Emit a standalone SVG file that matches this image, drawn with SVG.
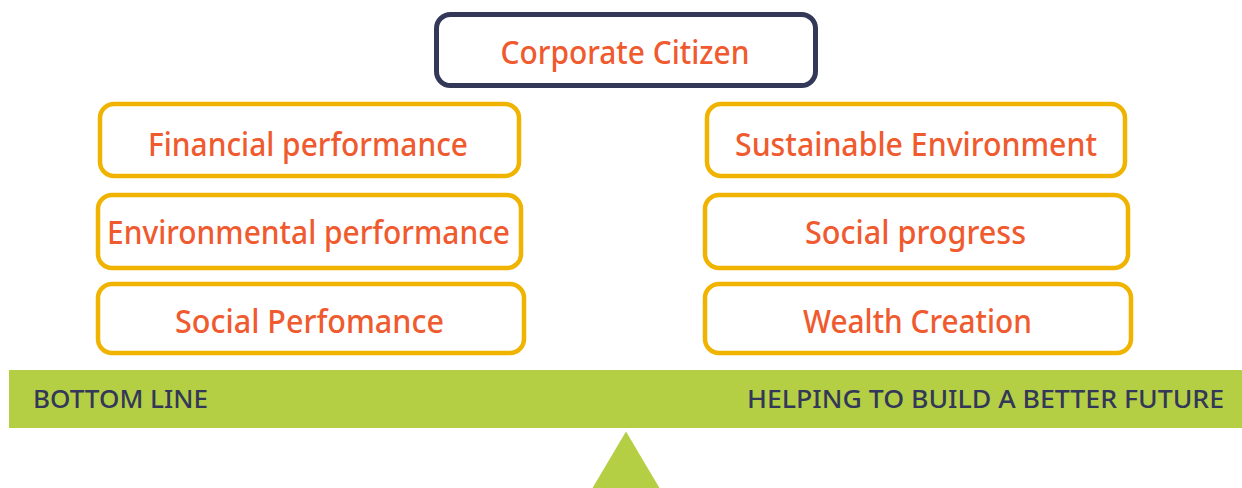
<svg xmlns="http://www.w3.org/2000/svg" width="1242" height="488" viewBox="0 0 1242 488">
<style>
.box{fill:#ffffff;stroke:#efb300;stroke-width:4.5}
.top{fill:#ffffff;stroke:#333758;stroke-width:5}
.lbl{font-family:"Noto Sans","Open Sans",sans-serif;font-size:33px;font-weight:500;fill:#ef5a2f;text-anchor:middle}
.bar{font-family:"Noto Sans","Open Sans",sans-serif;font-size:26px;font-weight:500;fill:#333758}
</style>
<rect width="1242" height="488" fill="#ffffff"/>
<g id="corporate-citizen">
<rect class="top" x="436.5" y="14.5" width="379" height="71" rx="14"/>
<text class="lbl" x="625" y="64" textLength="249" lengthAdjust="spacingAndGlyphs">Corporate Citizen</text>
</g>
<g id="financial-performance">
<rect class="box" x="100" y="104" width="419" height="72" rx="14"/>
<text class="lbl" x="308" y="156" textLength="320" lengthAdjust="spacingAndGlyphs">Financial performance</text>
</g>
<g id="environmental-performance">
<rect class="box" x="98" y="195" width="423" height="73" rx="14"/>
<text class="lbl" x="308.5" y="244" textLength="403" lengthAdjust="spacingAndGlyphs">Environmental performance</text>
</g>
<g id="social-performance">
<rect class="box" x="98" y="284" width="426" height="69" rx="14"/>
<text class="lbl" x="309.5" y="333" textLength="269" lengthAdjust="spacingAndGlyphs">Social Perfomance</text>
</g>
<g id="sustainable-environment">
<rect class="box" x="707" y="104" width="418" height="72" rx="14"/>
<text class="lbl" x="916" y="156" textLength="362" lengthAdjust="spacingAndGlyphs">Sustainable Environment</text>
</g>
<g id="social-progress">
<rect class="box" x="705" y="195" width="423" height="73" rx="14"/>
<text class="lbl" x="915.5" y="244" textLength="221" lengthAdjust="spacingAndGlyphs">Social progress</text>
</g>
<g id="wealth-creation">
<rect class="box" x="705" y="284" width="426" height="69" rx="14"/>
<text class="lbl" x="917.5" y="333" textLength="229" lengthAdjust="spacingAndGlyphs">Wealth Creation</text>
</g>
<g id="connectors"></g>
<g id="balance">
<rect x="9" y="370" width="1233" height="58" fill="#b5cf45"/>
<text class="bar" x="33" y="408" textLength="175" lengthAdjust="spacingAndGlyphs">BOTTOM LINE</text>
<text class="bar" x="1224" y="408" text-anchor="end" textLength="477" lengthAdjust="spacingAndGlyphs">HELPING TO BUILD A BETTER FUTURE</text>
<polygon points="626,431.5 592.5,488 659.5,488" fill="#b5cf45"/>
</g>
</svg>
